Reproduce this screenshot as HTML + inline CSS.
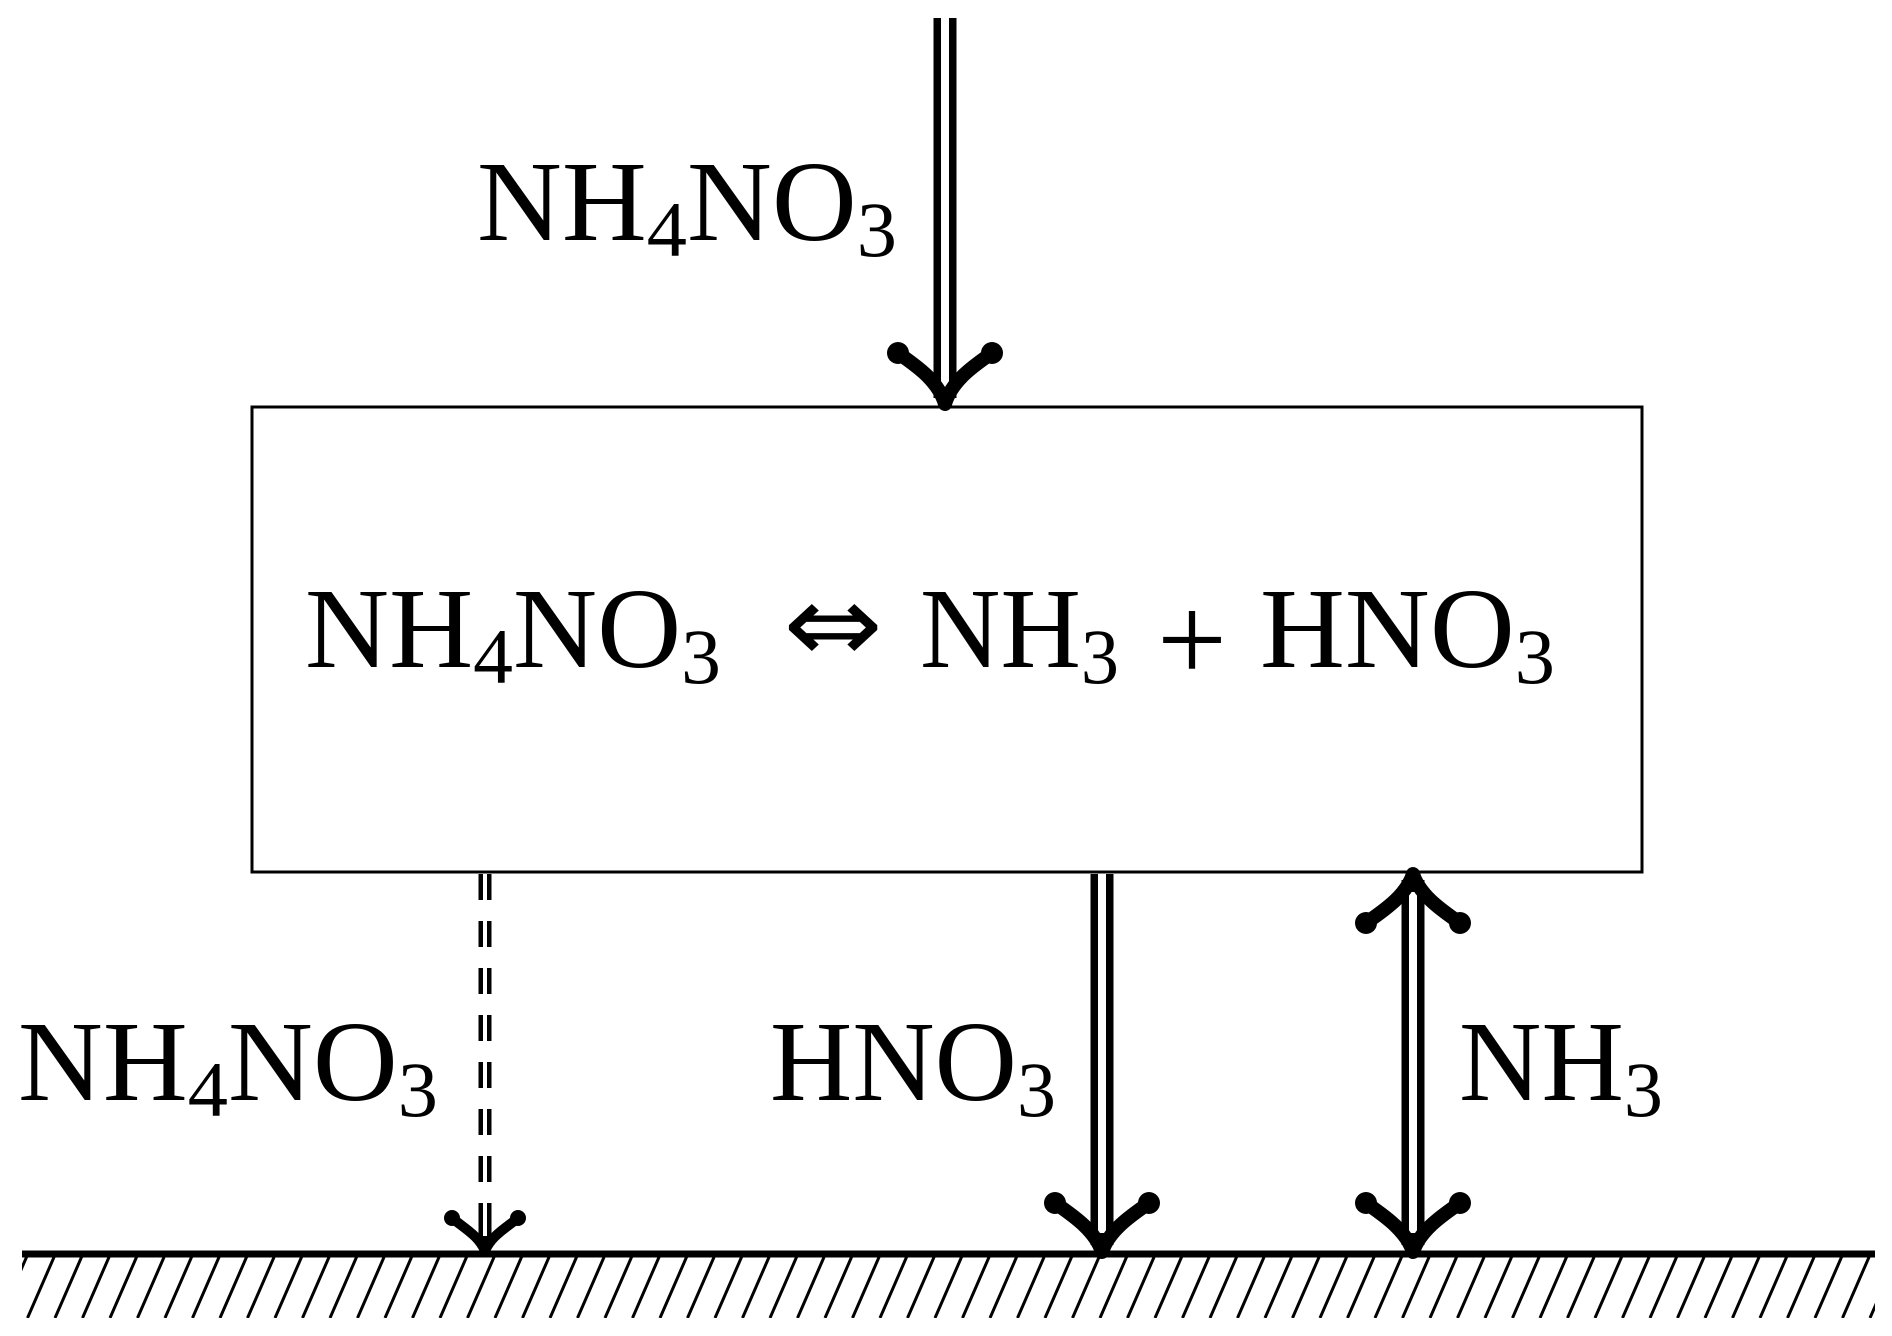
<!DOCTYPE html>
<html><head><style>html,body{margin:0;padding:0;background:#fff}svg{display:block}</style></head>
<body>
<svg width="1892" height="1336" viewBox="0 0 1892 1336" xmlns="http://www.w3.org/2000/svg" font-family="'Liberation Serif', serif">
<defs>
<clipPath id="hc"><rect x="22" y="1257" width="1853" height="61"/></clipPath>
</defs>
<!-- box -->
<rect x="252" y="407" width="1390" height="465" fill="none" stroke="#000" stroke-width="3"/>
<!-- ground -->
<line x1="22" y1="1254" x2="1875" y2="1254" stroke="#000" stroke-width="7"/>
<g clip-path="url(#hc)" stroke="#000" stroke-width="3" fill="none">
<path d="M0 1318 L27 1256 M27.5 1318 L54.5 1256 M55 1318 L82 1256 M82.5 1318 L109.5 1256 M110 1318 L137 1256 M137.5 1318 L164.5 1256 M165 1318 L192 1256 M192.5 1318 L219.5 1256 M220 1318 L247 1256 M247.5 1318 L274.5 1256 M275 1318 L302 1256 M302.5 1318 L329.5 1256 M330 1318 L357 1256 M357.5 1318 L384.5 1256 M385 1318 L412 1256 M412.5 1318 L439.5 1256 M440 1318 L467 1256 M467.5 1318 L494.5 1256 M495 1318 L522 1256 M522.5 1318 L549.5 1256 M550 1318 L577 1256 M577.5 1318 L604.5 1256 M605 1318 L632 1256 M632.5 1318 L659.5 1256 M660 1318 L687 1256 M687.5 1318 L714.5 1256 M715 1318 L742 1256 M742.5 1318 L769.5 1256 M770 1318 L797 1256 M797.5 1318 L824.5 1256 M825 1318 L852 1256 M852.5 1318 L879.5 1256 M880 1318 L907 1256 M907.5 1318 L934.5 1256 M935 1318 L962 1256 M962.5 1318 L989.5 1256 M990 1318 L1017 1256 M1017.5 1318 L1044.5 1256 M1045 1318 L1072 1256 M1072.5 1318 L1099.5 1256 M1100 1318 L1127 1256 M1127.5 1318 L1154.5 1256 M1155 1318 L1182 1256 M1182.5 1318 L1209.5 1256 M1210 1318 L1237 1256 M1237.5 1318 L1264.5 1256 M1265 1318 L1292 1256 M1292.5 1318 L1319.5 1256 M1320 1318 L1347 1256 M1347.5 1318 L1374.5 1256 M1375 1318 L1402 1256 M1402.5 1318 L1429.5 1256 M1430 1318 L1457 1256 M1457.5 1318 L1484.5 1256 M1485 1318 L1512 1256 M1512.5 1318 L1539.5 1256 M1540 1318 L1567 1256 M1567.5 1318 L1594.5 1256 M1595 1318 L1622 1256 M1622.5 1318 L1649.5 1256 M1650 1318 L1677 1256 M1677.5 1318 L1704.5 1256 M1705 1318 L1732 1256 M1732.5 1318 L1759.5 1256 M1760 1318 L1787 1256 M1787.5 1318 L1814.5 1256 M1815 1318 L1842 1256 M1842.5 1318 L1869.5 1256 M1870 1318 L1897 1256"/>
</g>

<!-- top arrow -->
<line x1="945" y1="18" x2="945" y2="398" stroke="#000" stroke-width="23"/>
<line x1="945" y1="18" x2="945" y2="388" stroke="#fff" stroke-width="8"/>
<path d="M898 353 C915 365 938 380 945 404 C952 380 975 365 992 353" fill="none" stroke="#000" stroke-width="14" stroke-linecap="round" stroke-linejoin="round"/>
<circle cx="898" cy="353" r="11"/><circle cx="992" cy="353" r="11"/>

<!-- dashed arrow -->
<g stroke-dasharray="26 21">
<line x1="485" y1="874" x2="485" y2="1236" stroke="#000" stroke-width="13"/>
</g>
<g stroke-dasharray="26 21">
<line x1="485" y1="874" x2="485" y2="1236" stroke="#fff" stroke-width="4"/>
</g>
<line x1="485" y1="1206" x2="485" y2="1247" stroke="#000" stroke-width="13"/>
<line x1="485" y1="1206" x2="485" y2="1236" stroke="#fff" stroke-width="4"/>
<path d="M452 1218 C464 1228 479 1236 485 1251 C491 1236 506 1228 518 1218" fill="none" stroke="#000" stroke-width="10" stroke-linecap="round" stroke-linejoin="round"/>
<circle cx="452" cy="1218" r="8"/><circle cx="518" cy="1218" r="8"/>

<!-- HNO3 arrow -->
<line x1="1102" y1="874" x2="1102" y2="1245" stroke="#000" stroke-width="23"/>
<line x1="1102" y1="874" x2="1102" y2="1233" stroke="#fff" stroke-width="8"/>
<path d="M1055 1203 C1072 1215 1095 1230 1102 1252 C1109 1230 1132 1215 1149 1203" fill="none" stroke="#000" stroke-width="14" stroke-linecap="round" stroke-linejoin="round"/>
<circle cx="1055" cy="1203" r="11"/><circle cx="1149" cy="1203" r="11"/>

<!-- NH3 double arrow -->
<line x1="1413" y1="880" x2="1413" y2="1245" stroke="#000" stroke-width="23"/>
<line x1="1413" y1="892" x2="1413" y2="1233" stroke="#fff" stroke-width="8"/>
<path d="M1366 1203 C1383 1215 1406 1230 1413 1252 C1420 1230 1443 1215 1460 1203" fill="none" stroke="#000" stroke-width="14" stroke-linecap="round" stroke-linejoin="round"/>
<circle cx="1366" cy="1203" r="11"/><circle cx="1460" cy="1203" r="11"/>
<path d="M1366 923 C1383 911 1406 896 1413 874 C1420 896 1443 911 1460 923" fill="none" stroke="#000" stroke-width="14" stroke-linecap="round" stroke-linejoin="round"/>
<circle cx="1366" cy="923" r="11"/><circle cx="1460" cy="923" r="11"/>

<!-- labels -->
<g font-size="114" fill="#000">
<text x="477" y="240" textLength="420" lengthAdjust="spacingAndGlyphs">NH<tspan font-size="78" dy="16">4</tspan><tspan dy="-16">NO</tspan><tspan font-size="78" dy="16">3</tspan></text>
<text x="305" y="667" textLength="416" lengthAdjust="spacingAndGlyphs">NH<tspan font-size="78" dy="16">4</tspan><tspan dy="-16">NO</tspan><tspan font-size="78" dy="16">3</tspan></text>
<text x="783" y="662" font-size="110" font-family="'DejaVu Sans', sans-serif" textLength="100" lengthAdjust="spacingAndGlyphs">⇔</text>
<text x="920" y="667" textLength="199" lengthAdjust="spacingAndGlyphs">NH<tspan font-size="78" dy="16">3</tspan></text>
<text x="1157" y="681" font-size="124" textLength="70" lengthAdjust="spacingAndGlyphs">+</text>
<text x="1260" y="667" textLength="295" lengthAdjust="spacingAndGlyphs">HNO<tspan font-size="78" dy="16">3</tspan></text>
<text x="18" y="1100" textLength="420" lengthAdjust="spacingAndGlyphs">NH<tspan font-size="78" dy="16">4</tspan><tspan dy="-16">NO</tspan><tspan font-size="78" dy="16">3</tspan></text>
<text x="770" y="1100" textLength="286" lengthAdjust="spacingAndGlyphs">HNO<tspan font-size="78" dy="16">3</tspan></text>
<text x="1459" y="1100" textLength="204" lengthAdjust="spacingAndGlyphs">NH<tspan font-size="78" dy="16">3</tspan></text>
</g>
</svg>
</body></html>
